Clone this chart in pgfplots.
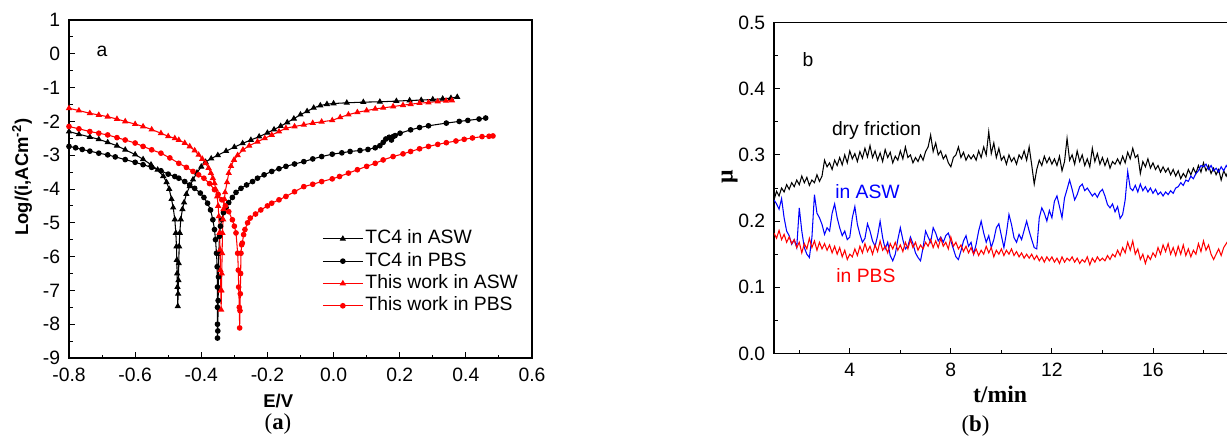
\documentclass[border=0pt]{standalone}
\usepackage{fontspec}
\setmainfont{Liberation Sans}
\newfontfamily\timesf{Liberation Serif}
\usepackage{pgfplots}
\pgfplotsset{compat=1.18}

\pgfplotsset{
  orig/.style={scale only axis, tick align=inside, tick pos=left,
    axis line style={line width=0.6pt},
    major tick length=0.12cm, minor tick length=0.07cm,
    every tick/.style={black, line width=0.5pt},
    tick label style={font=\fontsize{11}{13}\selectfont},
    xticklabel style={yshift=-2pt},
    yticklabel style={xshift=-1.5pt}},
}

\begin{document}
\begin{tikzpicture}
\useasboundingbox (0,0) rectangle (24.54,8.94);

% ---------- (a) polarisation curves
\begin{axis}[orig, at={(1.38cm,1.78cm)}, anchor=south west,
  width=9.26cm, height=6.76cm,
  xmin=-0.8, xmax=0.6, ymin=-9, ymax=1,
  xtick={-0.8,-0.6,-0.4,-0.2,0,0.2,0.4,0.6},
  xticklabels={-0.8,-0.6,-0.4,-0.2,0.0,0.2,0.4,0.6},
  ytick={-9,-8,-7,-6,-5,-4,-3,-2,-1,0,1},
  yticklabels={-9,-8,-7,-6,-5,-4,-3,-2,-1,0,1},
  minor x tick num=1, minor y tick num=1,
  xlabel={\bfseries E/V}, ylabel={\bfseries Log/(i,ACm\textsuperscript{-2})},
  label style={font=\fontsize{10.5}{12}\selectfont},
  xlabel style={at={(axis description cs:0.452,0)}, anchor=center, yshift=-0.854cm},
  ylabel style={at={(axis description cs:-0.1015,0.535)}, anchor=center, rotate=0},
  legend style={draw=none, fill=none, at={(0.535,0.397)}, anchor=north west,
    font=\fontsize{11}{13}\selectfont,
    nodes={inner sep=1.2pt, text height=8pt, text depth=2.3pt}},
  legend cell align=left,
  legend image code/.code={\draw[#1, mark repeat=2, mark phase=2]
    plot coordinates {(0cm,0cm)(0.4cm,0cm)(0.8cm,0cm)};},
  every axis plot/.append style={line width=0.6pt},
]
\addplot[black, mark=triangle*, mark size=1.5pt] coordinates {
(-0.800,-2.30)(-0.770,-2.38)(-0.737,-2.46)(-0.710,-2.53)(-0.683,-2.62)(-0.655,-2.72)
(-0.630,-2.84)(-0.600,-2.98)(-0.576,-3.12)(-0.552,-3.28)(-0.532,-3.43)(-0.515,-3.62)
(-0.505,-3.80)(-0.497,-4.00)(-0.490,-4.30)(-0.485,-4.55)(-0.480,-4.90)(-0.477,-5.30)
(-0.475,-5.70)(-0.474,-6.10)(-0.473,-6.50)(-0.472,-6.90)(-0.471,-7.47)(-0.470,-7.10)
(-0.469,-6.70)(-0.468,-6.20)(-0.467,-5.70)(-0.465,-5.30)(-0.462,-4.90)(-0.457,-4.60)
(-0.452,-4.40)(-0.445,-4.15)(-0.435,-3.92)(-0.425,-3.72)(-0.413,-3.52)(-0.400,-3.34)
(-0.387,-3.20)(-0.370,-3.10)(-0.350,-3.00)(-0.325,-2.88)(-0.300,-2.76)(-0.275,-2.65)
(-0.250,-2.55)(-0.225,-2.45)(-0.200,-2.34)(-0.180,-2.24)(-0.160,-2.14)(-0.140,-2.03)
(-0.120,-1.92)(-0.100,-1.80)(-0.080,-1.70)(-0.060,-1.60)(-0.040,-1.53)(-0.020,-1.49)
(0.000,-1.47)(0.040,-1.45)(0.090,-1.43)(0.140,-1.42)(0.190,-1.40)(0.230,-1.38)
(0.265,-1.37)(0.300,-1.35)(0.330,-1.33)(0.355,-1.31)(0.374,-1.28)};
\addlegendentry{TC4 in ASW}
\addplot[black, mark=*, mark size=1.3pt] coordinates {
(-0.800,-2.74)(-0.780,-2.78)(-0.760,-2.83)(-0.737,-2.88)(-0.710,-2.94)(-0.683,-2.99)
(-0.660,-3.05)(-0.630,-3.13)(-0.600,-3.21)(-0.576,-3.28)(-0.550,-3.36)(-0.522,-3.46)
(-0.500,-3.56)(-0.480,-3.63)(-0.468,-3.68)(-0.450,-3.78)(-0.435,-3.88)(-0.420,-3.98)
(-0.403,-4.12)(-0.392,-4.25)(-0.381,-4.42)(-0.372,-4.62)(-0.365,-4.91)(-0.360,-5.20)
(-0.357,-5.50)(-0.354,-5.90)(-0.352,-6.30)(-0.351,-6.90)(-0.351,-7.50)(-0.351,-8.00)
(-0.351,-8.41)(-0.350,-8.20)(-0.349,-7.30)(-0.348,-6.60)(-0.347,-5.90)(-0.345,-5.40)
(-0.342,-5.10)(-0.338,-4.90)(-0.333,-4.70)(-0.325,-4.55)(-0.317,-4.40)(-0.306,-4.25)
(-0.295,-4.10)(-0.280,-3.98)(-0.263,-3.88)(-0.245,-3.78)(-0.230,-3.68)(-0.210,-3.58)
(-0.187,-3.48)(-0.165,-3.40)(-0.144,-3.33)(-0.118,-3.26)(-0.090,-3.19)(-0.063,-3.11)
(-0.036,-3.04)(-0.004,-2.97)(0.025,-2.93)(0.050,-2.89)(0.080,-2.86)(0.104,-2.83)
(0.126,-2.78)(0.140,-2.72)(0.150,-2.62)(0.158,-2.52)(0.168,-2.47)(0.175,-2.55)
(0.180,-2.45)(0.186,-2.42)(0.201,-2.35)(0.233,-2.25)(0.260,-2.18)(0.287,-2.13)
(0.341,-2.05)(0.380,-2.00)(0.406,-1.97)(0.440,-1.93)(0.460,-1.90)};
\addlegendentry{TC4 in PBS}
\addplot[red, mark=triangle*, mark size=1.5pt] coordinates {
(-0.800,-1.61)(-0.770,-1.68)(-0.737,-1.76)(-0.710,-1.81)(-0.683,-1.86)(-0.655,-1.93)
(-0.630,-2.00)(-0.600,-2.08)(-0.576,-2.15)(-0.550,-2.24)(-0.522,-2.35)(-0.500,-2.44)
(-0.480,-2.50)(-0.468,-2.55)(-0.450,-2.64)(-0.435,-2.74)(-0.420,-2.86)(-0.408,-2.99)
(-0.397,-3.11)(-0.387,-3.24)(-0.378,-3.38)(-0.371,-3.53)(-0.365,-3.68)(-0.360,-3.83)
(-0.356,-4.02)(-0.352,-4.22)(-0.349,-4.50)(-0.347,-4.81)(-0.345,-5.30)(-0.343,-5.80)
(-0.342,-6.40)(-0.341,-7.00)(-0.340,-7.57)(-0.339,-7.00)(-0.338,-6.50)(-0.337,-5.90)
(-0.336,-5.30)(-0.334,-4.90)(-0.333,-4.60)(-0.330,-4.30)(-0.328,-4.10)(-0.322,-3.80)
(-0.317,-3.53)(-0.310,-3.32)(-0.301,-3.14)(-0.290,-3.00)(-0.274,-2.84)(-0.255,-2.72)
(-0.230,-2.60)(-0.208,-2.50)(-0.187,-2.40)(-0.165,-2.30)(-0.144,-2.20)(-0.118,-2.15)
(-0.090,-2.10)(-0.063,-2.05)(-0.036,-2.01)(-0.004,-1.97)(0.020,-1.88)(0.045,-1.80)
(0.072,-1.73)(0.100,-1.68)(0.126,-1.63)(0.150,-1.60)(0.180,-1.56)(0.210,-1.52)
(0.233,-1.49)(0.260,-1.46)(0.287,-1.44)(0.315,-1.41)(0.340,-1.39)(0.358,-1.38)};
\addlegendentry{This work in ASW}
\addplot[red, mark=*, mark size=1.3pt] coordinates {
(-0.800,-2.15)(-0.770,-2.22)(-0.737,-2.30)(-0.710,-2.35)(-0.683,-2.40)(-0.655,-2.48)
(-0.630,-2.55)(-0.600,-2.64)(-0.576,-2.74)(-0.550,-2.84)(-0.522,-2.94)(-0.495,-3.08)
(-0.468,-3.24)(-0.445,-3.36)(-0.425,-3.48)(-0.408,-3.58)(-0.392,-3.68)(-0.375,-3.84)
(-0.360,-4.02)(-0.349,-4.16)(-0.338,-4.32)(-0.327,-4.50)(-0.317,-4.67)(-0.306,-4.91)
(-0.300,-5.10)(-0.295,-5.30)(-0.290,-5.90)(-0.288,-6.40)(-0.287,-6.90)(-0.285,-7.50)
(-0.284,-8.11)(-0.283,-7.60)(-0.282,-7.10)(-0.281,-6.50)(-0.280,-5.90)(-0.278,-5.65)
(-0.276,-5.60)(-0.272,-5.35)(-0.268,-5.20)(-0.260,-5.00)(-0.252,-4.86)(-0.236,-4.74)
(-0.220,-4.62)(-0.200,-4.50)(-0.187,-4.42)(-0.165,-4.32)(-0.144,-4.22)(-0.118,-4.08)
(-0.090,-3.93)(-0.063,-3.86)(-0.036,-3.78)(-0.004,-3.70)(0.018,-3.63)(0.045,-3.53)
(0.072,-3.43)(0.100,-3.33)(0.126,-3.24)(0.150,-3.14)(0.180,-3.04)(0.210,-2.96)
(0.233,-2.89)(0.260,-2.81)(0.287,-2.74)(0.315,-2.68)(0.341,-2.63)(0.370,-2.58)
(0.395,-2.53)(0.420,-2.49)(0.449,-2.45)(0.470,-2.44)(0.482,-2.43)};
\addlegendentry{This work in PBS}
\node[font=\fontsize{11}{12}\selectfont] at (axis cs:-0.70,0.07) {a};
\end{axis}

% ---------- (b) friction coefficient
\begin{axis}[orig, at={(15.48cm,1.87cm)}, anchor=south west,
  width=9.6cm, height=6.62cm,
  xmin=1, xmax=20, ymin=0, ymax=0.5,
  xtick={4,8,12,16}, xticklabels={4,8,12,16},
  minor xtick={2,6,10,14,18},
  ytick={0,0.1,0.2,0.3,0.4,0.5},
  yticklabels={0.0,0.1,0.2,0.3,0.4,0.5},
  minor y tick num=1,
  xlabel={\timesf\bfseries t/min}, ylabel={\timesf\bfseries μ},
  label style={font=\fontsize{13.5}{15}\selectfont},
  xlabel style={at={(axis description cs:0.471,0)}, anchor=center, yshift=-0.826cm},
  ylabel style={at={(axis description cs:-0.0923,0.535)}, anchor=center, rotate=0},
  every axis plot/.append style={line width=0.6pt, no marks},
]
% dry friction
\addplot[black] coordinates {
(1.0,.232)(1.1,.245)(1.2,.238)(1.3,.250)(1.4,.244)(1.5,.255)(1.6,.248)(1.7,.258)(1.8,.252)(1.9,.262)
(2.0,.255)(2.1,.268)(2.2,.258)(2.3,.266)(2.4,.254)(2.5,.262)(2.6,.258)(2.7,.270)(2.8,.260)(2.9,.268)
(3.0,.292)(3.1,.282)(3.2,.288)(3.3,.278)(3.4,.292)(3.5,.284)(3.6,.296)(3.7,.285)(3.8,.300)(3.9,.288)
(4.0,.306)(4.1,.294)(4.2,.302)(4.3,.290)(4.4,.305)(4.5,.295)(4.6,.310)(4.7,.297)(4.8,.314)(4.9,.296)
(5.0,.306)(5.1,.292)(5.2,.303)(5.3,.290)(5.4,.308)(5.5,.296)(5.6,.304)(5.7,.288)(5.8,.298)(5.9,.292)
(6.0,.306)(6.1,.294)(6.2,.312)(6.3,.296)(6.4,.300)(6.5,.288)(6.6,.296)(6.7,.290)(6.8,.300)(6.9,.292)
(7.0,.305)(7.1,.312)(7.2,.330)(7.3,.305)(7.4,.318)(7.5,.300)(7.6,.306)(7.7,.294)(7.8,.300)(7.9,.288)
(8.0,.282)(8.1,.296)(8.2,.300)(8.3,.312)(8.4,.296)(8.5,.304)(8.6,.292)(8.7,.300)(8.8,.294)(8.9,.300)
(9.0,.292)(9.1,.306)(9.2,.296)(9.3,.312)(9.4,.300)(9.5,.335)(9.6,.302)(9.7,.318)(9.8,.296)(9.9,.310)
(10.0,.292)(10.1,.298)(10.2,.286)(10.3,.300)(10.4,.290)(10.5,.296)(10.6,.286)(10.7,.300)(10.8,.294)(10.9,.306)
(11.0,.292)(11.1,.312)(11.2,.285)(11.3,.256)(11.4,.278)(11.5,.292)(11.6,.284)(11.7,.298)(11.8,.288)(11.9,.296)
(12.0,.286)(12.1,.294)(12.2,.284)(12.3,.298)(12.4,.276)(12.5,.290)(12.6,.325)(12.7,.292)(12.8,.300)(12.9,.286)
(13.0,.306)(13.1,.290)(13.2,.300)(13.3,.284)(13.4,.294)(13.5,.282)(13.6,.310)(13.7,.290)(13.8,.302)(13.9,.286)
(14.0,.296)(14.1,.284)(14.2,.294)(14.3,.280)(14.4,.290)(14.5,.286)(14.6,.294)(14.7,.286)(14.8,.298)(14.9,.288)
(15.0,.304)(15.1,.294)(15.2,.310)(15.3,.296)(15.4,.300)(15.5,.272)(15.6,.290)(15.7,.282)(15.8,.294)(15.9,.280)
(16.0,.288)(16.1,.278)(16.2,.284)(16.3,.274)(16.4,.282)(16.5,.274)(16.6,.280)(16.7,.270)(16.8,.278)(16.9,.268)
(17.0,.276)(17.1,.264)(17.2,.272)(17.3,.266)(17.4,.278)(17.5,.270)(17.6,.280)(17.7,.272)(17.8,.284)(17.9,.274)
(18.0,.288)(18.1,.276)(18.2,.284)(18.3,.272)(18.4,.280)(18.5,.270)(18.6,.278)(18.7,.262)(18.8,.276)(18.9,.268)
(19.0,.278)(19.1,.270)(19.2,.274)};
% in ASW
\addplot[blue] coordinates {
(1.0,.232)(1.1,.226)(1.2,.218)(1.3,.234)(1.4,.205)(1.5,.185)(1.6,.178)(1.7,.165)(1.8,.172)(1.9,.160)
(2.0,.220)(2.1,.185)(2.2,.160)(2.3,.150)(2.4,.145)(2.5,.175)(2.6,.240)(2.7,.212)(2.8,.205)(2.9,.195)
(3.0,.180)(3.1,.190)(3.2,.185)(3.3,.212)(3.4,.226)(3.5,.205)(3.6,.190)(3.7,.178)(3.8,.185)(3.9,.172)
(4.0,.176)(4.1,.205)(4.2,.222)(4.3,.195)(4.4,.180)(4.5,.168)(4.6,.174)(4.7,.196)(4.8,.185)(4.9,.170)
(5.0,.162)(5.1,.178)(5.2,.200)(5.3,.175)(5.4,.158)(5.5,.168)(5.6,.148)(5.7,.140)(5.8,.150)(5.9,.172)
(6.0,.190)(6.1,.172)(6.2,.158)(6.3,.162)(6.4,.176)(6.5,.166)(6.6,.152)(6.7,.145)(6.8,.140)(6.9,.160)
(7.0,.185)(7.1,.176)(7.2,.168)(7.3,.190)(7.4,.182)(7.5,.170)(7.6,.176)(7.7,.168)(7.8,.178)(7.9,.182)
(8.0,.170)(8.1,.158)(8.2,.146)(8.3,.142)(8.4,.155)(8.5,.170)(8.6,.178)(8.7,.162)(8.8,.168)(8.9,.150)
(9.0,.165)(9.1,.185)(9.2,.200)(9.3,.182)(9.4,.168)(9.5,.178)(9.6,.160)(9.7,.172)(9.8,.190)(9.9,.196)
(10.0,.178)(10.1,.160)(10.2,.182)(10.3,.210)(10.4,.195)(10.5,.175)(10.6,.168)(10.7,.180)(10.8,.172)(10.9,.186)
(11.0,.200)(11.1,.185)(11.2,.172)(11.3,.160)(11.4,.158)(11.5,.205)(11.6,.220)(11.7,.212)(11.8,.200)(11.9,.216)
(12.0,.205)(12.1,.230)(12.2,.238)(12.3,.222)(12.4,.205)(12.5,.235)(12.6,.248)(12.7,.262)(12.8,.248)(12.9,.232)
(13.0,.240)(13.1,.252)(13.2,.256)(13.3,.246)(13.4,.250)(13.5,.244)(13.6,.238)(13.7,.242)(13.8,.236)(13.9,.244)
(14.0,.248)(14.1,.238)(14.2,.225)(14.3,.220)(14.4,.226)(14.5,.214)(14.6,.222)(14.7,.204)(14.8,.210)(14.9,.232)
(15.0,.275)(15.1,.250)(15.2,.246)(15.3,.254)(15.4,.244)(15.5,.256)(15.6,.246)(15.7,.252)(15.8,.244)(15.9,.250)
(16.0,.242)(16.1,.248)(16.2,.240)(16.3,.244)(16.4,.238)(16.5,.244)(16.6,.240)(16.7,.246)(16.8,.242)(16.9,.250)
(17.0,.252)(17.1,.258)(17.2,.254)(17.3,.262)(17.4,.260)(17.5,.268)(17.6,.264)(17.7,.272)(17.8,.276)(17.9,.284)
(18.0,.282)(18.1,.286)(18.2,.278)(18.3,.284)(18.4,.276)(18.5,.280)(18.6,.274)(18.7,.282)(18.8,.276)(18.9,.284)
(19.0,.278)(19.1,.286)(19.2,.280)};
% in PBS
\addplot[red] coordinates {
(1.0,.182)(1.1,.174)(1.2,.186)(1.3,.172)(1.4,.180)(1.5,.168)(1.6,.176)(1.7,.166)(1.8,.172)(1.9,.160)
(2.0,.168)(2.1,.152)(2.2,.166)(2.3,.158)(2.4,.174)(2.5,.160)(2.6,.170)(2.7,.156)(2.8,.168)(2.9,.158)
(3.0,.166)(3.1,.156)(3.2,.164)(3.3,.152)(3.4,.162)(3.5,.150)(3.6,.160)(3.7,.146)(3.8,.156)(3.9,.142)
(4.0,.150)(4.1,.146)(4.2,.158)(4.3,.148)(4.4,.162)(4.5,.152)(4.6,.166)(4.7,.154)(4.8,.162)(4.9,.150)
(5.0,.164)(5.1,.154)(5.2,.170)(5.3,.156)(5.4,.162)(5.5,.152)(5.6,.166)(5.7,.158)(5.8,.168)(5.9,.156)
(6.0,.164)(6.1,.154)(6.2,.168)(6.3,.158)(6.4,.172)(6.5,.160)(6.6,.168)(6.7,.156)(6.8,.164)(6.9,.158)
(7.0,.168)(7.1,.162)(7.2,.172)(7.3,.160)(7.4,.170)(7.5,.160)(7.6,.174)(7.7,.162)(7.8,.168)(7.9,.158)
(8.0,.176)(8.1,.162)(8.2,.168)(8.3,.158)(8.4,.164)(8.5,.154)(8.6,.162)(8.7,.152)(8.8,.160)(8.9,.150)
(9.0,.158)(9.1,.148)(9.2,.156)(9.3,.150)(9.4,.162)(9.5,.152)(9.6,.160)(9.7,.146)(9.8,.156)(9.9,.150)
(10.0,.158)(10.1,.148)(10.2,.156)(10.3,.150)(10.4,.158)(10.5,.148)(10.6,.154)(10.7,.146)(10.8,.152)(10.9,.144)
(11.0,.150)(11.1,.144)(11.2,.150)(11.3,.142)(11.4,.148)(11.5,.140)(11.6,.146)(11.7,.138)(11.8,.146)(11.9,.140)
(12.0,.146)(12.1,.138)(12.2,.144)(12.3,.136)(12.4,.146)(12.5,.138)(12.6,.144)(12.7,.140)(12.8,.146)(12.9,.138)
(13.0,.144)(13.1,.136)(13.2,.142)(13.3,.138)(13.4,.146)(13.5,.134)(13.6,.144)(13.7,.138)(13.8,.146)(13.9,.140)
(14.0,.144)(14.1,.140)(14.2,.148)(14.3,.142)(14.4,.150)(14.5,.146)(14.6,.156)(14.7,.148)(14.8,.160)(14.9,.152)
(15.0,.168)(15.1,.156)(15.2,.170)(15.3,.150)(15.4,.158)(15.5,.142)(15.6,.150)(15.7,.136)(15.8,.148)(15.9,.142)
(16.0,.152)(16.1,.146)(16.2,.160)(16.3,.150)(16.4,.164)(16.5,.154)(16.6,.166)(16.7,.150)(16.8,.160)(16.9,.148)
(17.0,.162)(17.1,.150)(17.2,.164)(17.3,.148)(17.4,.158)(17.5,.146)(17.6,.156)(17.7,.150)(17.8,.166)(17.9,.154)
(18.0,.170)(18.1,.156)(18.2,.164)(18.3,.150)(18.4,.142)(18.5,.150)(18.6,.158)(18.7,.148)(18.8,.160)(18.9,.166)
(19.0,.172)(19.1,.164)(19.2,.176)};
\node[font=\fontsize{11}{12}\selectfont] at (axis cs:2.35,0.444) {b};
\node[font=\fontsize{11}{12}\selectfont] at (axis cs:5.06,0.337) {dry friction};
\node[font=\fontsize{11}{12}\selectfont, blue] at (axis cs:4.7,0.245) {in ASW};
\node[font=\fontsize{11}{12}\selectfont, red] at (axis cs:4.64,0.117) {in PBS};
\end{axis}

\node[font=\timesf\fontsize{13}{15}\selectfont] at (5.56,0.46) {({\bfseries a})};
\node[font=\timesf\fontsize{13}{15}\selectfont] at (19.51,0.42) {({\bfseries b})};
\end{tikzpicture}
\end{document}
